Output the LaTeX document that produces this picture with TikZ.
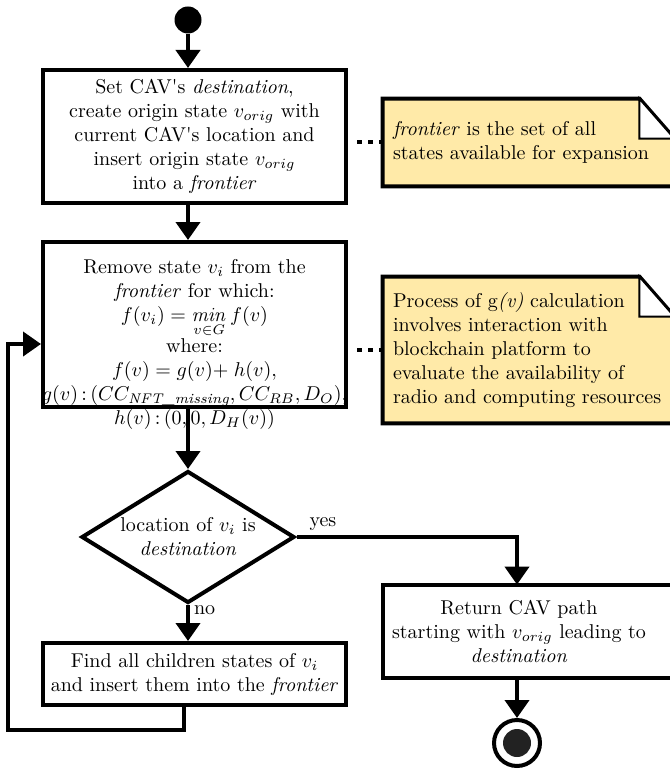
\documentclass[tikz,border=0pt]{standalone}
\usetikzlibrary{arrows.meta,shapes.geometric,backgrounds}
\definecolor{notefill}{RGB}{255,234,168}
\definecolor{endfill}{RGB}{34,34,34}
\newcommand{\apos}{\textquotesingle}
\begin{document}
\begin{tikzpicture}[x=0.5pt,y=-0.5pt,
  flow/.style={line width=2pt,-{Triangle[width=12pt,length=9pt]}},
  stepbox/.style={draw,line width=2pt,rectangle,align=center,inner sep=0pt,minimum width=151.5pt},
  decision/.style={draw,line width=2pt,diamond,align=center,inner sep=0pt,
    minimum width=106.5pt,minimum height=66pt,shape aspect=1.6},
  notebox/.style={rectangle,align=left,inner xsep=5pt,inner ysep=0pt,
    text width=135.5pt,minimum width=145.5pt},
  dotlink/.style={line width=2pt,dash pattern=on 2.5pt off 3pt,shorten <=4.5pt,shorten >=0.5pt},
  lbl/.style={inner sep=2pt}]
\useasboundingbox (0,0) rectangle (669,775);

% start / end markers
\node[circle,fill=black,minimum size=13.5pt,inner sep=0pt] (start) at (188,20) {};
\node[circle,draw,line width=2pt,minimum size=23pt,inner sep=0pt] (stop) at (517,743) {};
\fill[endfill] (stop.center) circle (7pt);

% process steps
\node[stepbox,minimum height=66.5pt] (init) at (194.5,136.5)
  {Set CAV\apos s \textit{destination},\\
   create origin state $v_{orig}$ with\\
   current CAV\apos s location and\\
   insert origin state $v_{orig}$\\
   into a \textit{frontier}};

\node[stepbox,minimum height=82.5pt] (pick) at (194.5,324.5) {};
\node[align=center,inner sep=0pt] (picktext) at ([yshift=-10pt]pick.center)
  {Remove state $v_i$ from the\\
   \textit{frontier} for which:\\
   $f(v_i) = \mathop{\mathit{min}}\limits_{v\in G} f(v)$\\
   where:\\
   $f(v) = g(v){+}\;h(v),$\\
   $g(v)\,{:}\,(CC_{\mbox{\scriptsize\itshape NFT\_missing}}, CC_{RB}, D_O),$\\
   $h(v)\,{:}\,(0,0,D_H(v))$};

\node[decision] (dec) at (188,537) {location of $v_i$ is\\\textit{destination}};

\node[stepbox,minimum height=31pt] (expand) at (194.5,674)
  {Find all children states of $v_i$\\
   and insert them into the \textit{frontier}};

\node[rectangle,align=center,inner sep=0pt,minimum width=136pt,minimum height=46.5pt] (ret) at (519,631.5)
  {Return CAV path\\
   starting with $v_{orig}$ leading to\\
   \textit{destination}};
\draw[line width=2pt] (ret.north west) rectangle ([xshift=13pt]ret.south east);

% annotations
\node[notebox,minimum height=43.5pt] (note1) at (528.5,142.5)
  {\textit{frontier} is the set of all\\
   states available for expansion};
\node[notebox,minimum height=73pt] (note2) at (528.5,350)
  {Process of g\textit{(v)} calculation\\
   involves interaction with\\
   blockchain platform to\\
   evaluate the availability of\\
   radio and computing resources};

\begin{scope}[on background layer]
  \foreach \n in {note1,note2} {
    \filldraw[fill=notefill,line width=2pt,line join=miter]
      (\n.north west) -- ([xshift=-17.5pt]\n.north east) -- ([yshift=-20pt]\n.north east)
      -- (\n.south east) -- (\n.south west) -- cycle;
    \filldraw[fill=white,line width=1pt,line join=miter]
      ([xshift=-17.5pt]\n.north east) -- ([xshift=-17.5pt,yshift=-20pt]\n.north east)
      -- ([yshift=-20pt]\n.north east) -- cycle;
  }
\end{scope}

\draw[dotlink] (init.east |- note1.west) -- (note1.west);
\draw[dotlink] (pick.east |- note2.west) -- (note2.west);

% control flow
\coordinate (backdown) at (184,730);
\coordinate (backup) at (8,344);

\draw[flow] (start) -- (start |- init.north);
\draw[flow] (init.south -| start) -- (pick.north -| start);
\draw[flow] (pick.south -| dec.north) -- (dec.north);
\draw[flow] (dec.south) -- node[lbl,pos=0.15,right] {no} (expand.north -| dec.south);
\draw[flow] (dec.east) -| node[lbl,pos=0.06,above] {yes} (ret.north -| stop);
\draw[flow] (ret.south -| stop) -- (stop);
\draw[flow] (expand.south -| backdown) -- (backdown) -| (backup) -- (pick.west |- backup);
\end{tikzpicture}
\end{document}
